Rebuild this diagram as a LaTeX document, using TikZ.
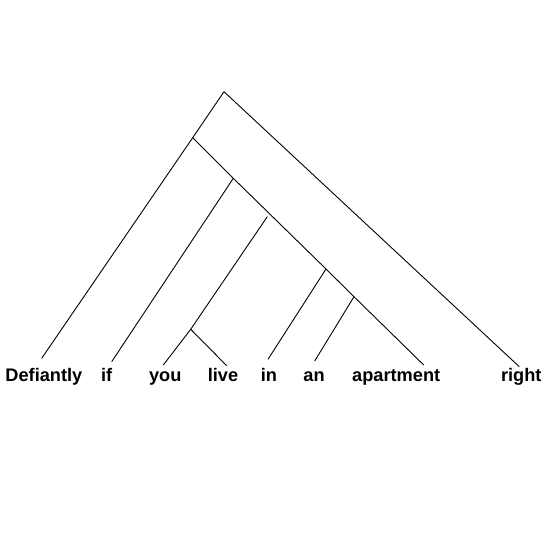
\documentclass[tikz,border=0pt]{standalone}
\usepackage{fontspec}
\setmainfont{Liberation Sans}
\begin{document}
\begin{tikzpicture}[x=1pt,y=-1pt,
  word/.style={anchor=base,inner sep=0pt,font=\fontsize{18.2}{20}\selectfont\bfseries},
  branch/.style={line width=0.9pt,black}]
\useasboundingbox (0,0) rectangle (552,552);
% words
\node[word] (w1) at (43.9,381.7) {Defiantly};
\node[word] (w2) at (106.7,381.7) {if};
\node[word] (w3) at (165.3,381.7) {you};
\node[word] (w4) at (223,381.7) {live};
\node[word] (w5) at (269,381.7) {in};
\node[word] (w6) at (314,381.7) {an};
\node[word] (w7) at (396.2,381.7) {apartment};
\node[word] (w8) at (521.3,381.7) {right};
% internal points
\coordinate (top) at (224,91.7);
\coordinate (nA) at (192.7,137.7);
\coordinate (nB) at (233.3,178.3);
\coordinate (nC) at (267.3,216.7);
\coordinate (nD) at (190.7,329.3);
\coordinate (nE) at (326,269);
\coordinate (nF) at (354,296.7);
% leaf ends
\coordinate (e1) at (41.7,358.3);
\coordinate (e2) at (111.7,361.7);
\coordinate (e3) at (163.3,365);
\coordinate (e4) at (226.7,365.7);
\coordinate (e5) at (268,359.3);
\coordinate (e6) at (314.7,361);
\coordinate (e7) at (423.7,365);
\coordinate (e8) at (519.3,366.7);
% branches
\draw[branch] (top) -- (nA) -- (e1);
\draw[branch] (top) -- (e8);
\draw[branch] (nA) -- (nB) -- (nE) -- (nF) -- (e7);
\draw[branch] (nB) -- (e2);
\draw[branch] (nC) -- (nD) -- (e3);
\draw[branch] (nD) -- (e4);
\draw[branch] (nE) -- (e5);
\draw[branch] (nF) -- (e6);
\end{tikzpicture}
\end{document}
